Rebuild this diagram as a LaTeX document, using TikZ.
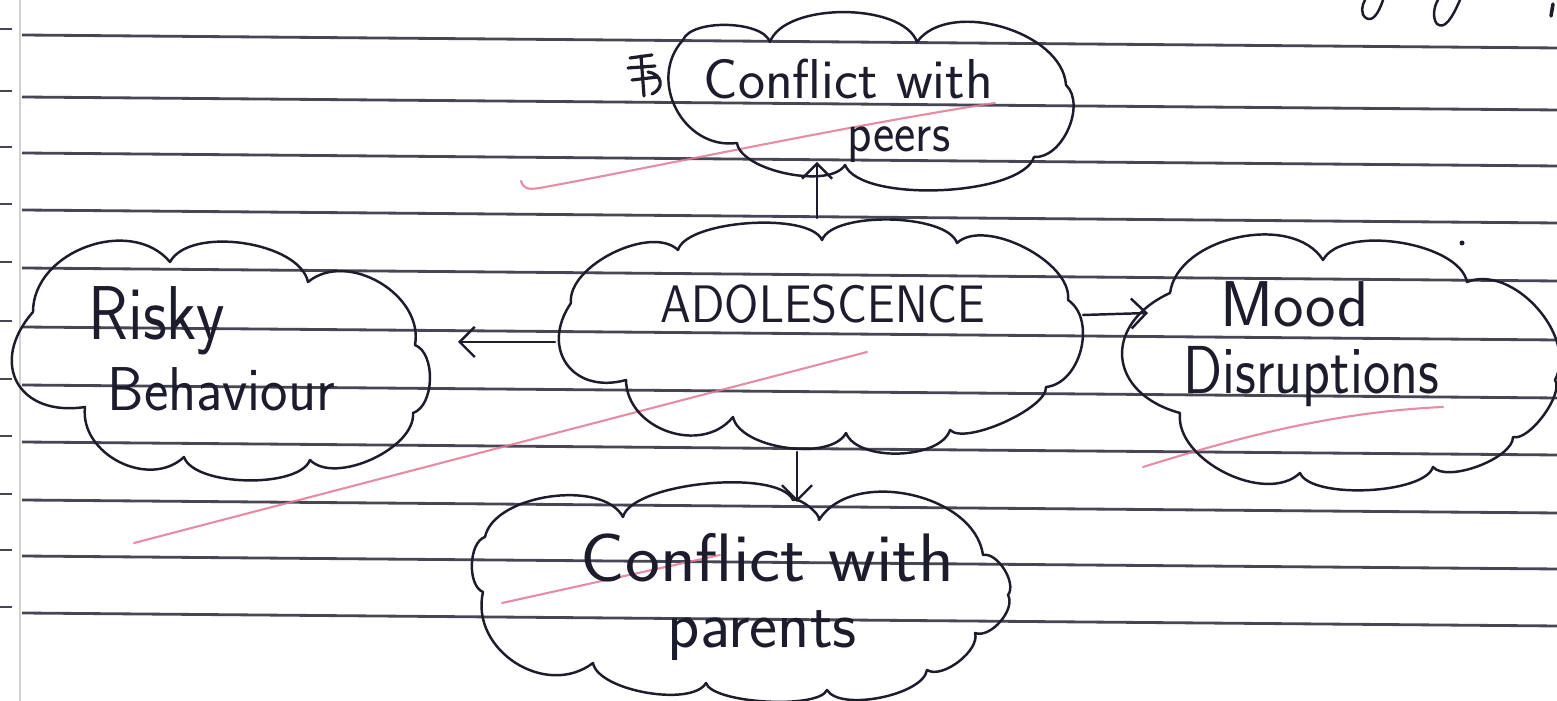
\documentclass[tikz,border=0pt]{standalone}
\usepackage{graphicx}
\usetikzlibrary{arrows.meta}
\definecolor{ink}{RGB}{28,28,44}
\definecolor{rule}{RGB}{70,70,84}
\definecolor{pinkpen}{RGB}{226,120,150}
\begin{document}
\begin{tikzpicture}[x=0.01cm,y=-0.01cm,
  pen/.style={draw=ink, line width=0.7pt, line cap=round, line join=round},
  bl/.style={bend left=70, looseness=#1},
  ruling/.style={draw=rule, line width=0.8pt},
  marker/.style={draw=pinkpen, line width=0.6pt, opacity=0.85, line cap=round},
  hand/.style={text=ink, inner sep=0pt, anchor=base west, font=\sffamily\fontsize{#1}{#1}\selectfont},
  arr/.style={pen, -{Straight Barb[length=1.5mm,width=3mm]}}]

\fill[white] (0,0) rectangle (1557,701);
\useasboundingbox (0,0) rectangle (1557,701);

% ruled paper
\draw[gray!35, line width=0.6pt] (20,0) -- (20,701);
\foreach \y in {35,97,153,210,268,327,385,442,500,556,613} {
  \draw[ruling] (22,\y) -- (1557,\y+13);
  \draw[ruling] (0,\y-6) -- (12,\y-6);
}

% pink underlines
\draw[marker] (521,181) .. controls (524,190) and (530,190) .. (545,187) .. controls (650,168) and (850,125) .. (995,103);
\draw[marker] (134,543) -- (867,352);
\draw[marker] (1143,467) .. controls (1230,440) and (1330,412) .. (1443,407);
\draw[marker] (502,603) -- (720,555);

% texts
\node[hand=16] (peersA) at (703,99) {\scalebox{1.02}[1]{Conflict with}};
\node[hand=16] (peersB) at (847,152) {\scalebox{0.9}[1]{peers}};
\node[hand=15] (adol) at (660,323) {\scalebox{0.9}[1]{ADOLESCENCE}};
\node[hand=21.7] (riskyA) at (88,340) {\scalebox{0.86}[1]{Risky}};
\node[hand=17.6] (riskyB) at (107,411) {\scalebox{0.94}[1]{Behaviour}};
\node[hand=18.4] (moodA) at (1220,327) {Mood};
\node[hand=19.3] (moodB) at (1183,394) {\scalebox{0.85}[1]{Disruptions}};
\node[hand=19.5] (parA) at (580,582) {\scalebox{1.08}[1]{Conflict with}};
\node[hand=19] (parB) at (667,648) {parents};

% clouds
\draw[pen] (683,40) to[bl=0.67] (770,42) to[bl=0.74] (917,42) to[bl=0.89] (1066,85) to[bl=0.92] (1034,157) to[bl=0.56] (845,165) to[bl=0.66] (737,143) to[bl=1.19] (683,40);
\draw[pen] (678,250) to[bl=0.55] (822,240) to[bl=0.59] (957,243) to[bl=0.78] (1068,300) to[bl=1.0] (1046,387) to[bl=0.52] (950,430) to[bl=0.77] (846,433) to[bl=0.73] (733,417) to[bl=1.12] (626,380) to[bl=1.5] (571,303) to[bl=0.8] (678,250);
\draw[pen] (33,312) to[bl=1.07] (170,262) to[bl=0.76] (308,282) to[bl=1.05] (415,345) to[bl=0.85] (413,413) to[bl=0.8] (310,460) to[bl=0.63] (184,457) to[bl=1.1] (85,407) to[bl=1.6] (33,312);
\draw[pen] (1170,293) to[bl=0.93] (1323,260) to[bl=0.72] (1467,282) to[bl=0.96] (1555,380) to[bl=0.6] (1513,437) to[bl=0.64] (1433,467) to[bl=0.55] (1300,473) to[bl=0.9] (1180,413) to[bl=1.6] (1170,293);
\draw[pen] (485,537) to[bl=0.8] (623,517) to[bl=0.53] (793,500) to[bl=0.5] (819,520) to[bl=0.95] (983,555) to[bl=0.8] (1008,595) to[bl=0.84] (975,633) to[bl=0.76] (927,670) to[bl=0.64] (827,690) to[bl=0.45] (706,683) to[bl=0.63] (593,663) to[bl=1.16] (483,592) to[bl=0.8] (485,537);

% connector ends
\coordinate (adolTop) at (817,218);
\coordinate (peersBot) at (817,162);
\coordinate (adolLeft) at (555,342);
\coordinate (riskyRight) at (458,342);
\coordinate (adolRight) at (1083,315);
\coordinate (moodLeft) at (1148,313);
\coordinate (adolBot) at (797,452);
\coordinate (parTop) at (797,502);
\draw[arr] (adolTop) -- (peersBot);
\draw[arr] (adolLeft) -- (riskyRight);
\draw[arr] (adolRight) -- (moodLeft);
\draw[arr] (adolBot) -- (parTop);

% small marks
\draw[pen, line width=0.9pt] (630,58) -- (652,55) (628,68) -- (655,66) (632,80) -- (658,77) (641,56) -- (644,96) (648,72) .. controls (662,74) and (665,88) .. (652,94);
\fill[ink] (1462,243) circle[radius=2.5];
\draw[pen] (1383,0) .. controls (1378,15) and (1372,22) .. (1366,18) .. controls (1360,14) and (1362,5) .. (1365,0);
\draw[pen] (1460,0) .. controls (1452,18) and (1445,30) .. (1437,24) .. controls (1432,18) and (1434,6) .. (1438,0);
\draw[pen, line width=1pt] (1553,4) -- (1551,16);
\end{tikzpicture}
\end{document}
